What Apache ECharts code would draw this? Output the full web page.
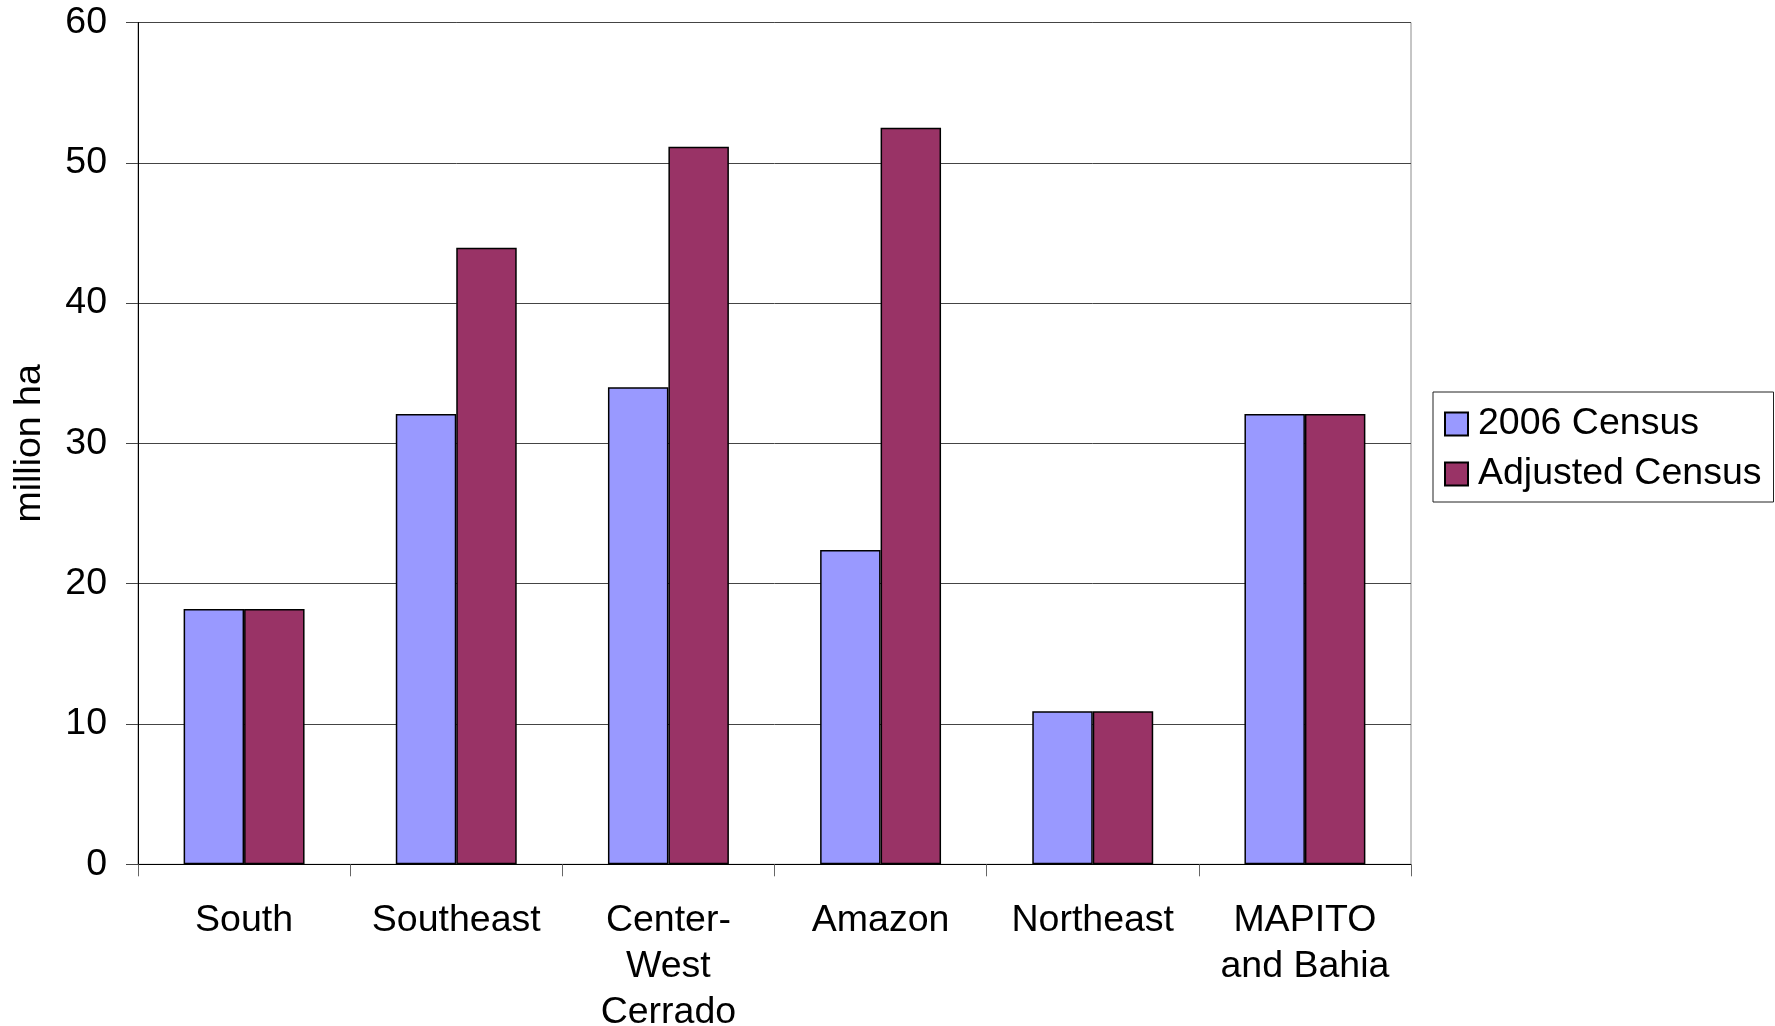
<!DOCTYPE html>
<html>
<head>
<meta charset="utf-8">
<script src="https://cdn.jsdelivr.net/npm/echarts@6/dist/echarts.min.js"></script>
<style>
  html, body { margin: 0; padding: 0; background: #ffffff; }
  #chart { width: 1775px; height: 1026px; }
</style>
</head>
<body>
<div id="chart"></div>
<script>
// Regions and farmland area (million ha)
const regions = ['South', 'Southeast', 'Center-\nWest\nCerrado', 'Amazon', 'Northeast', 'MAPITO\nand Bahia'];
const census2006 = [18.2, 32.1, 34.0, 22.4, 10.9, 32.1];
const adjustedCensus = [18.2, 43.95, 51.15, 52.5, 10.9, 32.1];
const seriesNames = ['2006 Census', 'Adjusted Census'];
const yTicks = { min: 0, max: 60, interval: 10 };

const FONT = '"Liberation Sans", Arial, sans-serif';
const FONT_SIZE = 37.5;

const chart = echarts.init(document.getElementById('chart'), null, { renderer: 'canvas' });

chart.setOption({
  backgroundColor: '#ffffff',
  animation: false,
  textStyle: { fontFamily: FONT, color: '#000' },
  grid: {
    left: 138,
    right: 364,
    top: 22.5,
    bottom: 161.7,
    containLabel: false,
    outerBoundsMode: 'none',
    show: true,
    borderColor: '#8c8c8c',
    borderWidth: 1,
    backgroundColor: 'transparent'
  },
  legend: {
    orient: 'vertical',
    left: 1433,
    top: 392,
    padding: [13, 12, 9, 11],
    itemWidth: 23,
    itemHeight: 23,
    itemGap: 12,
    borderColor: '#222',
    borderWidth: 1,
    icon: 'rect',
    textStyle: {
      fontFamily: FONT,
      fontSize: FONT_SIZE,
      lineHeight: 36,
      color: '#000',
      padding: [0, 0, 0, 5]
    },
    data: seriesNames
  },
  xAxis: {
    type: 'category',
    data: regions,
    boundaryGap: true,
    axisLine: { show: true, lineStyle: { color: '#000', width: 1 } },
    axisTick: { show: true, length: 12, lineStyle: { color: '#666' } },
    axisLabel: {
      margin: 33,
      fontFamily: FONT,
      fontSize: FONT_SIZE,
      lineHeight: 46,
      color: '#000',
      interval: 0
    }
  },
  yAxis: {
    type: 'value',
    min: yTicks.min,
    max: yTicks.max,
    interval: yTicks.interval,
    name: 'million ha',
    nameLocation: 'middle',
    nameGap: 89,
    nameRotate: 90,
    nameTextStyle: { fontFamily: FONT, fontSize: FONT_SIZE, color: '#000' },
    axisLine: { show: true, lineStyle: { color: '#000', width: 1 } },
    axisTick: { show: true, length: 12, lineStyle: { color: '#444' } },
    axisLabel: { margin: 31, fontFamily: FONT, fontSize: FONT_SIZE, color: '#000', padding: [6, 0, 0, 0] },
    splitLine: { show: true, lineStyle: { color: '#444', width: 1 } }
  },
  series: [
    {
      name: seriesNames[0],
      type: 'bar',
      data: census2006,
      barWidth: '28.5%',
      barGap: '0%',
      itemStyle: { color: '#9999ff', borderColor: '#000', borderWidth: 1.5 }
    },
    {
      name: seriesNames[1],
      type: 'bar',
      data: adjustedCensus,
      barWidth: '28.5%',
      barGap: '0%',
      itemStyle: { color: '#993366', borderColor: '#000', borderWidth: 1.5 }
    }
  ]
});
</script>
</body>
</html>
